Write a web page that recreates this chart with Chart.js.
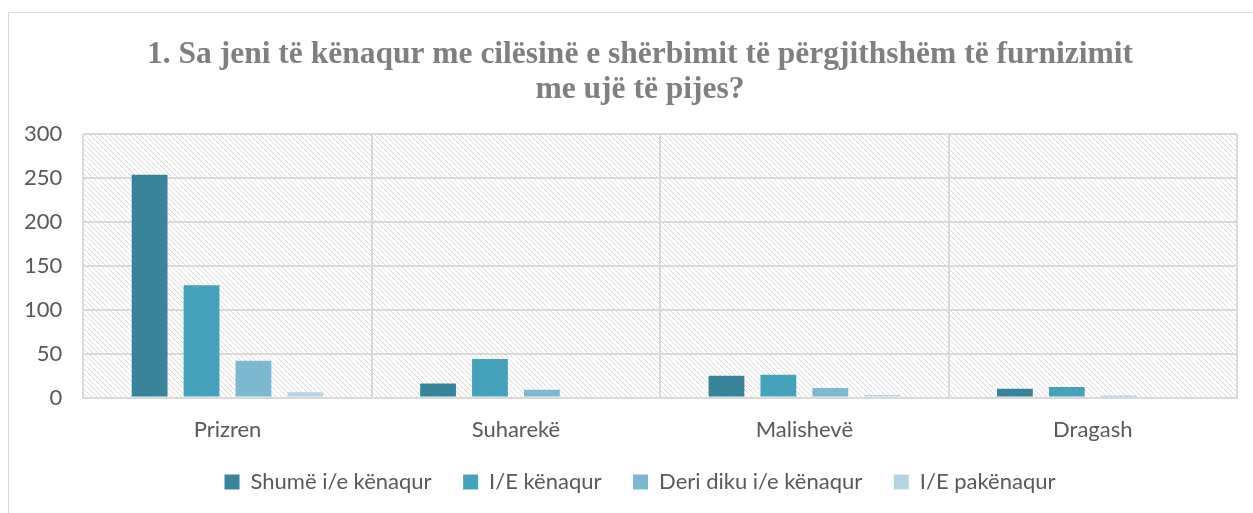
<!DOCTYPE html>
<html>
<head>
<meta charset="utf-8">
<script src="https://cdn.jsdelivr.net/npm/chart.js@4"></script>
<style>
  html, body { margin: 0; padding: 0; background: #fff; overflow: hidden; }
  #frame { position: absolute; left: 8px; top: 12px; width: 1260px; height: 520px; border: 1px solid #d9d9d9; }
  #wrap { position: absolute; left: 0; top: 0; width: 1253px; height: 513px; }
</style>
</head>
<body>
<div id="frame"></div>
<div id="wrap"><canvas id="myChart" width="1253" height="513"></canvas></div>
<script>
var categories = ["Prizren", "Suharekë", "Malishevë", "Dragash"];
var seriesNames = ["Shumë i/e kënaqur", "I/E kënaqur", "Deri diku i/e kënaqur", "I/E pakënaqur"];
var shume = [254, 16, 25, 10];
var kenaqur = [128, 44, 26, 12];
var deriDiku = [42, 9, 11, 2];
var pakenaqur = [6, 0, 3, 0];
var yTicks = [0, 50, 100, 150, 200, 250, 300];
var colors = ["#38849a", "#46a2ba", "#7cb9cf", "#b4d6e2"];

var hatchPlugin = {
    id: 'hatch',
    afterLayout: function(chart) {
        // centre title and legend over the whole frame like the original
        if (chart.titleBlock) chart.titleBlock.left = 43;
        if (chart.legend) chart.legend.left = 43;
    },
    beforeDraw: function(chart) {
        var ctx = chart.ctx;
        var a = chart.chartArea;
        var p = document.createElement('canvas');
        p.width = 5; p.height = 5;
        var pc = p.getContext('2d');
        pc.fillStyle = '#ffffff';
        pc.fillRect(0, 0, 5, 5);
        pc.strokeStyle = '#dadada';
        pc.lineWidth = 1;
        pc.beginPath();
        pc.moveTo(0, 0); pc.lineTo(5, 5);
        pc.moveTo(-1, 4); pc.lineTo(1, 6);
        pc.moveTo(4, -1); pc.lineTo(6, 1);
        pc.stroke();
        ctx.save();
        ctx.fillStyle = ctx.createPattern(p, 'repeat');
        ctx.fillRect(a.left, a.top, a.right - a.left, a.bottom - a.top);
        ctx.restore();
    }
};

var datasets = [shume, kenaqur, deriDiku, pakenaqur].map(function(d, i) {
    return {
        label: seriesNames[i],
        data: d,
        backgroundColor: colors[i],
        barPercentage: 0.69,
        categoryPercentage: 0.72
    };
});

var tickFont = { family: "Lato, 'Open Sans', sans-serif", size: 22 };

var ctx = document.getElementById('myChart');
new Chart(ctx, {
    type: 'bar',
    data: { labels: categories, datasets: datasets },
    plugins: [hatchPlugin],
    options: {
        responsive: false,
        animation: false,
        layout: { padding: { left: 3, right: 16, top: 0, bottom: 10 } },
        plugins: {
            title: {
                display: true,
                text: ["1. Sa jeni të kënaqur me cilësinë e shërbimit të përgjithshëm të furnizimit", "me ujë të pijes?"],
                color: '#7f7f7f',
                font: { family: "'Liberation Serif', serif", size: 31.5, weight: 'bold', lineHeight: 1.1 },
                padding: { top: 38, bottom: 27 }
            },
            legend: {
                position: 'bottom',
                labels: {
                    color: '#595959',
                    font: tickFont,
                    boxWidth: 15,
                    boxHeight: 15,
                    padding: 9,
                    generateLabels: function(chart) {
                        var items = Chart.defaults.plugins.legend.labels.generateLabels(chart);
                        items.forEach(function(it, i) {
                            if (i < items.length - 1) it.text = it.text + "    ";
                        });
                        return items;
                    }
                }
            },
            tooltip: { enabled: false }
        },
        scales: {
            x: {
                grid: { color: '#d9d9d9', lineWidth: 2, offset: true, drawTicks: false },
                border: { color: '#d9d9d9', width: 2 },
                ticks: { color: '#595959', font: tickFont, padding: 19 }
            },
            y: {
                min: 0,
                max: 300,
                afterBuildTicks: function(axis) {
                    axis.ticks = yTicks.map(function(v) { return { value: v }; });
                },
                grid: { color: '#d9d9d9', lineWidth: 2, drawTicks: false },
                border: { display: false },
                ticks: { color: '#595959', font: tickFont, padding: 21 }
            }
        }
    }
});
</script>
</body>
</html>
